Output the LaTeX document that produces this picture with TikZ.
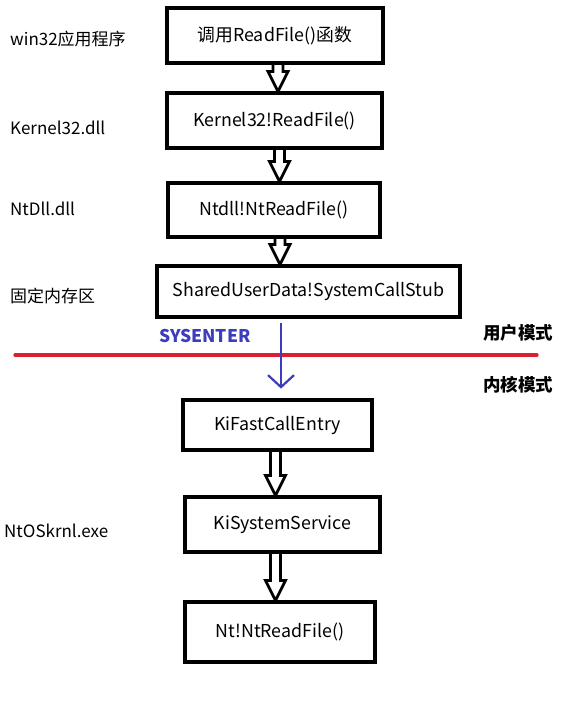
\documentclass[tikz,border=0pt]{standalone}
\usepackage{fontspec}
\setmainfont{Noto Sans CJK SC}
\usetikzlibrary{calc,arrows.meta}
\definecolor{sysblue}{RGB}{60,60,190}
\definecolor{modered}{RGB}{220,30,50}
\tikzset{
  box/.style={draw=black, line width=3.2pt, inner sep=0pt, font=\fontsize{17.8}{21}\selectfont},
  side/.style={anchor=west, inner sep=0pt, font=\fontsize{17}{20}\selectfont},
  mode/.style={anchor=west, inner sep=0pt, font=\bfseries\fontsize{17.5}{20}\selectfont},
  harrowline/.style={draw=black, line width=2.8pt, line join=miter},
  sysarrow/.style={draw=sysblue, line width=2.2pt, -{Straight Barb[length=12pt,width=26pt,line width=2.2pt]}},
  divider/.style={draw=modered, line width=3.2pt, line cap=round}
}
\newcommand\harrow[3]{%
  \draw[harrowline] let \p1=($(#1.south)+(#3,0)$), \p2=(#2.north) in
    (\x1-5pt,\y1) -- (\x1-5pt,\y2+20pt) -- (\x1-10pt,\y2+20pt) -- (\x1,\y2)
    -- (\x1+10pt,\y2+20pt) -- (\x1+5pt,\y2+20pt) -- (\x1+5pt,\y1);}
\begin{document}
\begin{tikzpicture}[x=1pt,y=-1pt]
\useasboundingbox (0,0) rectangle (565,717);
% boxes
\node[box, minimum width=216pt, minimum height=55pt] (b1) at (275,35.5) {调用ReadFile()函数};
\node[box, minimum width=215pt, minimum height=55pt] (b2) at (274.5,120.5) {Kernel32!ReadFile()};
\node[box, minimum width=212pt, minimum height=54pt] (b3) at (274,210) {Ntdll!NtReadFile()};
\node[box, minimum width=303pt, minimum height=51pt] (b4) at (308.5,291.5) {SharedUserData!SystemCallStub};
\node[box, minimum width=189pt, minimum height=50pt] (b5) at (277.5,425) {KiFastCallEntry};
\node[box, minimum width=195pt, minimum height=55pt] (b6) at (282.5,524.5) {KiSystemService};
\node[box, minimum width=190pt, minimum height=60pt] (b7) at (280,632) {Nt!NtReadFile()};
% side labels
\node[side] (l1) at (10,39) {win32应用程序};
\node[side] (l2) at (10,128) {Kernel32.dll};
\node[side] (l3) at (10,209) {NtDll.dll};
\node[side] (l4) at (10,296) {固定内存区};
\node[side] (l5) at (4,531) {NtOSkrnl.exe};
% hollow arrows
\harrow{b1}{b2}{3}
\harrow{b2}{b3}{5}
\harrow{b3}{b4}{6}
\harrow{b5}{b6}{-2}
\harrow{b6}{b7}{-7}
% mode divider
\coordinate (dl) at (15,355);
\coordinate (dr) at (537,355);
\draw[divider] (dl) -- (dr);
\node[mode] (um) at (483,333) {用户模式};
\node[mode] (km) at (483,385) {内核模式};
\node[anchor=west, inner sep=0pt, text=sysblue, font=\bfseries\fontsize{17.5}{20}\selectfont] (se) at (159,336) {SYSENTER};
% SYSENTER arrow
\draw[sysarrow] ($(b4.south)+(-27.5,4)$) -- ($(b4.south)+(-27.5,70)$);
\end{tikzpicture}
\end{document}
